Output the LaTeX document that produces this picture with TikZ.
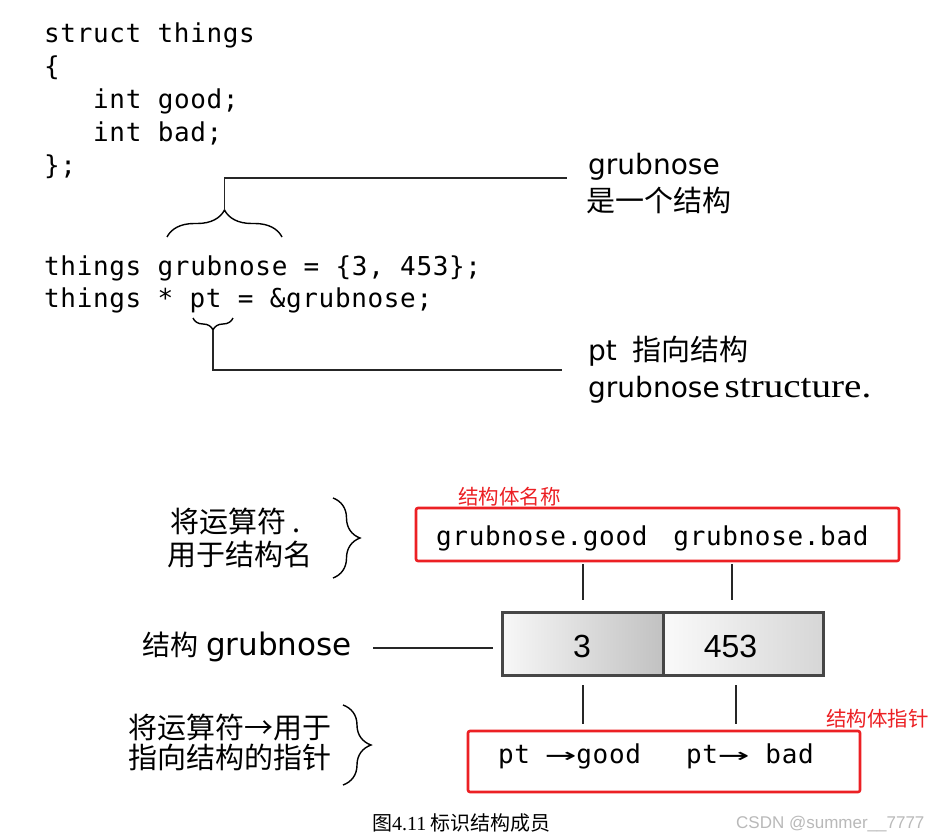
\documentclass[tikz,border=0pt]{standalone}
\usepackage{fontspec}
\usepackage{graphicx}
\usetikzlibrary{decorations.pathreplacing}
\newfontfamily\mono[LetterSpace=2.5]{DejaVu Sans Mono}
\newfontfamily\sans{DejaVu Sans}
\newfontfamily\cjk{Noto Sans CJK SC}
\newfontfamily\ser{Liberation Serif}
\newfontfamily\serw[FakeStretch=1.15]{Liberation Serif}
\newfontfamily\arial{Liberation Sans}
\definecolor{myred}{RGB}{236,32,36}
\definecolor{boxgray}{RGB}{70,70,70}
\newcommand\myarr{\scalebox{2.0}[1]{→}}
\tikzset{
  codetxt/.style={anchor=base west, inner sep=0pt, font=\mono\fontsize{26}{31}\selectfont},
  labtxt/.style={anchor=base west, inner sep=0pt, font=\fontsize{28}{34}\selectfont},
  cjktxt/.style={anchor=base west, inner sep=0pt, font=\cjk\fontsize{29}{35}\selectfont},
  redlab/.style={anchor=base west, inner sep=0pt, text=myred, font=\cjk\fontsize{20.5}{25}\selectfont},
  redbox/.style={draw=myred, line width=2.6pt, rounded corners=2pt, inner sep=0pt},
  cellbox/.style={draw=boxgray, line width=3pt, inner sep=0pt, minimum height=63pt},
  numtxt/.style={anchor=base, inner sep=0pt, font=\arial\fontsize{32}{38}\selectfont},
  conn/.style={line width=1.1pt, black!85},
  bracestyle/.style={line width=1.4pt, decorate},
}
\begin{document}
\begin{tikzpicture}[x=1pt, y=-1pt]
\useasboundingbox (0,0) rectangle (942,840);
\fill[white] (0,0) rectangle (942,840);

% code
\node[codetxt] (l1) at (44,43) {struct things};
\node[codetxt] (l2) at (44,76) {\{};
\node[codetxt] (l3) at (93,109) {int good;};
\node[codetxt] (l4) at (93,142) {int bad;};
\node[codetxt] (l5) at (44,175) {\};};
\node[codetxt] (l6) at (44,275) {things grubnose = \{3, 453\};};
\node[codetxt] (l7) at (44,307) {things * pt = \&grubnose;};

% braces in code
\draw[bracestyle, decoration={brace, amplitude=27pt}] (167,237) -- (282,237);
\coordinate (tipA) at (224.5,210);
\coordinate (eA) at (567,178);
\draw[conn] (tipA) |- (eA);

\draw[bracestyle, decoration={brace, amplitude=12pt}] (233,318) -- (193,318);
\coordinate (tipB) at (213,330);
\coordinate (eB) at (562,370);
\draw[conn] (tipB) |- (eB);

% right labels
\node[labtxt] (gA) at (588,175) {\sans grubnose};
\node[cjktxt] (gA2) at (586,211) {是一个结构};
\node[labtxt] (pA) at (588,360) {{\sans pt}\hspace{16pt}{\cjk\fontsize{29}{35}\selectfont 指向结构}};
\node[labtxt] (pB) at (588,397) {{\sans grubnose}\hspace{5pt}{\serw\fontsize{34}{40}\selectfont structure.}};

% bottom left labels
\node[cjktxt] (op1) at (170,532) {将运算符 .};
\node[cjktxt] (op2) at (167,565) {用于结构名};
\draw[bracestyle, decoration={brace, amplitude=27pt}] (333,498) -- (333,578);

\node[labtxt] (sg) at (142,655) {{\cjk\fontsize{28}{34}\selectfont 结构}\hspace{8pt}{\sans\fontsize{31}{36}\selectfont grubnose}};
\coordinate (la) at (373,648);
\coordinate (lb) at (493,648);
\draw[conn] (la) -- (lb);

\node[cjktxt] (op3) at (128,738) {将运算符→用于};
\node[cjktxt] (op4) at (128,768) {指向结构的指针};
\draw[bracestyle, decoration={brace, amplitude=28pt}] (343,705) -- (343,785);

% red box 1
\node[redbox, minimum width=483pt, minimum height=53pt] (rb1) at (657.5,534.5) {};
\node[codetxt] (t1) at (436,545) {grubnose.good\hspace{26pt}grubnose.bad};
\node[redlab] (r1) at (458,504) {结构体名称};

% vertical connectors top
\coordinate (v1a) at (583,564); \coordinate (v1b) at (583,600);
\coordinate (v2a) at (732,564); \coordinate (v2b) at (732,600);
\draw[conn] (v1a) -- (v1b);
\draw[conn] (v2a) -- (v2b);

% struct cells
\node[cellbox, minimum width=161pt, left color=gray!6, right color=gray!48] (cL) at (582.5,643.5) {};
\node[cellbox, minimum width=160pt, left color=gray!4, right color=gray!32] (cR) at (743,643.5) {};
\node[numtxt] (n3) at (582,657) {3};
\node[numtxt] (n453) at (730.5,657) {453};

% vertical connectors bottom
\coordinate (v3a) at (583,685); \coordinate (v3b) at (583,724);
\coordinate (v4a) at (736,685); \coordinate (v4b) at (736,724);
\draw[conn] (v3a) -- (v3b);
\draw[conn] (v4a) -- (v4b);

% red box 2
\node[redbox, minimum width=392pt, minimum height=61pt] (rb2) at (664,761.5) {};
\node[codetxt] (t2) at (498,763) {pt\hspace{15pt}\myarr good};
\node[codetxt] (t3) at (686,763) {pt\myarr\hspace{16pt}bad};
\node[redlab] (r2) at (826,726) {结构体指针};

% caption and watermark
\node[anchor=base west, inner sep=0pt, font=\fontsize{20}{24}\selectfont] (cap) at (372,830) {{\cjk 图}{\ser 4.11}\hspace{4pt}{\cjk 标识结构成员}};
\node[anchor=base west, inner sep=0pt, text=gray!55, font=\arial\fontsize{17}{20}\selectfont] (wm) at (736,828) {CSDN @summer\_\_7777};
\end{tikzpicture}
\end{document}
